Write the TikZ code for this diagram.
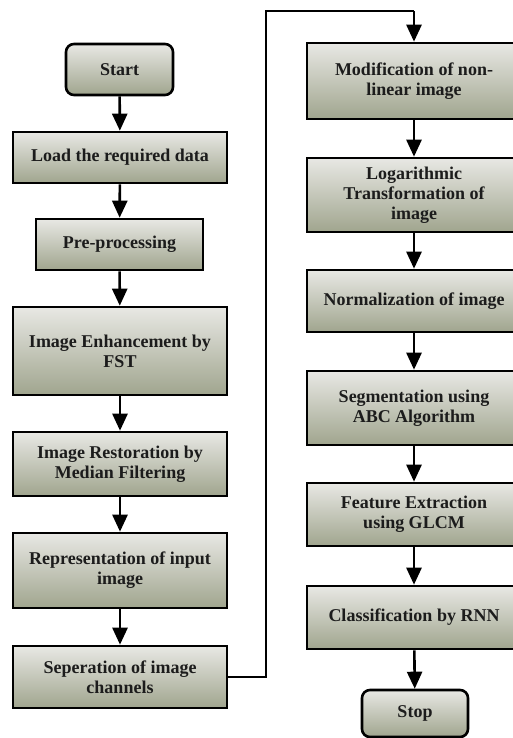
\documentclass[tikz,border=0pt]{standalone}
\usepackage{fontspec}
\setmainfont{Liberation Serif}
\usetikzlibrary{arrows.meta}
\definecolor{boxtop}{RGB}{232,232,228}
\definecolor{boxbot}{RGB}{160,165,142}
\definecolor{txt}{RGB}{28,28,28}
\tikzset{
  box/.style={draw=black, line width=2.6pt, top color=boxtop, bottom color=boxbot,
    minimum width=214pt, inner sep=0pt, align=center, text=txt,
    font=\fontsize{18}{20}\selectfont\bfseries},
  term/.style={box, rounded corners=8pt},
  arr/.style={line width=2.6pt, -{Triangle[length=17pt,width=15pt]}},
  lnk/.style={line width=2.6pt}
}
\begin{document}
\begin{tikzpicture}[x=1pt,y=-1pt]
\useasboundingbox (0,0) rectangle (512,738);
% left column
\node[term, minimum width=107pt, minimum height=51pt] (start) at (119.5,69.5) {Start};
\node[box, minimum height=51pt] (load) at (120,157.5) {Load the required data};
\node[box, minimum width=167pt, minimum height=51pt] (pre) at (119.5,244.5) {Pre-processing};
\node[box, minimum height=88pt] (enh) at (120,351) {Image Enhancement by\\FST};
\node[box, minimum height=64pt] (rest) at (120,464) {Image Restoration by\\Median Filtering};
\node[box, minimum height=75pt] (rep) at (120,570.5) {Representation of input\\image};
\node[box, minimum height=62pt] (sep) at (120,677) {Seperation of image\\channels};
% right column
\node[box, minimum height=76pt] (mod) at (414,81) {Modification of non-\\linear image};
\node[box, minimum height=74pt] (log) at (414,195) {Logarithmic\\Transformation of\\image};
\node[box, minimum height=62pt] (norm) at (414,301) {Normalization of image};
\node[box, minimum height=74pt] (seg) at (414,408) {Segmentation using\\ABC Algorithm};
\node[box, minimum height=63pt] (feat) at (414,514.5) {Feature Extraction\\using GLCM};
\node[box, minimum height=63pt] (cls) at (414,617.5) {Classification by RNN};
\node[term, minimum width=106pt, minimum height=47pt] (stop) at (415,713.5) {Stop};
% connectors
\draw[arr] (start) -- (load);
\draw[arr] (load) -- (pre);
\draw[arr] (pre) -- (enh);
\draw[arr] (enh) -- (rest);
\draw[arr] (rest) -- (rep);
\draw[arr] (rep) -- (sep);
\coordinate (c1) at (266,677);
\coordinate (c2) at (266,11);
\coordinate (c3) at (414,11);
\draw[lnk] (sep.east) -- (c1) -- (c2) -- (c3);
\draw[arr] (c3) -- (mod.north);
\draw[arr] (mod) -- (log);
\draw[arr] (log) -- (norm);
\draw[arr] (norm) -- (seg);
\draw[arr] (seg) -- (feat);
\draw[arr] (feat) -- (cls);
\draw[arr] (cls) -- (stop);
\end{tikzpicture}
\end{document}
